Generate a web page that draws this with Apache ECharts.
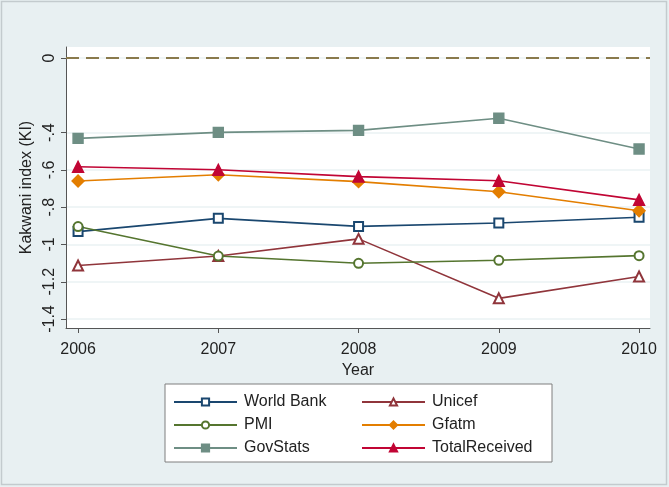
<!DOCTYPE html>
<html><head><meta charset="utf-8">
<script src="https://cdn.jsdelivr.net/npm/echarts@6/dist/echarts.min.js"></script>
<style>html,body{margin:0;padding:0;background:#e8f0f2;}#c{width:669px;height:487px;}</style>
</head><body><div id="c"></div>
<script>
const years = [2006, 2007, 2008, 2009, 2010];
const worldBank = [-0.931, -0.860, -0.903, -0.885, -0.854];
const unicef = [-1.113, -1.062, -0.970, -1.289, -1.172];
const pmi = [-0.904, -1.062, -1.101, -1.085, -1.060];
const gfatm = [-0.660, -0.626, -0.663, -0.717, -0.819];
const govStats = [-0.431, -0.399, -0.388, -0.323, -0.488];
const totalReceived = [-0.583, -0.599, -0.636, -0.658, -0.761];
const yTicks = [0, -0.4, -0.6, -0.8, -1, -1.2, -1.4];
const refLine = 0;
const xMin = 2005.914, xMax = 2010.078;

const FONT = 'Liberation Sans, Arial, sans-serif';
const pairs = a => years.map((y, i) => [y, a[i]]);
function mk(name, data, color, symbol, size) {
  return {
    name, type: 'line', data: pairs(data), symbol, symbolSize: size,
    lineStyle: { color, width: 1.6 },
    itemStyle: { color, borderColor: color, borderWidth: 1.4 },
    emphasis: { disabled: true }, z: 3
  };
}
const chart = echarts.init(document.getElementById('c'));
const legendCommon = {
  orient: 'vertical', itemWidth: 63, itemHeight: 9, itemGap: 7,
  textStyle: { fontFamily: FONT, fontSize: 16, color: '#222', padding: [0, 0, 0, 2] },
  selectedMode: false, padding: 0
};
chart.setOption({
  animation: false,
  backgroundColor: '#e8f0f2',
  graphic: [
    { type: 'rect', shape: { x: 1.5, y: 1.5, width: 665, height: 483 }, style: { fill: 'none', stroke: '#c3cbce', lineWidth: 1.5 }, z: -1 },
    { type: 'rect', shape: { x: 165, y: 384, width: 387, height: 78 }, style: { fill: '#fff', stroke: '#7f7f7f', lineWidth: 1 }, z: -1 }
  ],
  grid: { left: 66, right: 19, top: 47, bottom: 159, show: true, backgroundColor: '#fff', borderWidth: 0 },
  xAxis: {
    type: 'value', min: xMin, max: xMax,
    name: 'Year', nameLocation: 'middle', nameGap: 34,
    nameTextStyle: { fontFamily: FONT, fontSize: 16, color: '#222' },
    axisLine: { onZero: false, lineStyle: { color: '#555', width: 1 } },
    axisTick: { show: true, length: 5, customValues: years, lineStyle: { color: '#555' } },
    axisLabel: { customValues: years, fontFamily: FONT, fontSize: 16, color: '#222', margin: 14, formatter: v => String(v) },
    splitLine: { show: false }
  },
  yAxis: {
    type: 'value', min: -1.448, max: 0.059,
    name: 'Kakwani index (KI)', nameLocation: 'middle', nameGap: 29, nameRotate: 90,
    nameTextStyle: { fontFamily: FONT, fontSize: 16, color: '#222' },
    axisLine: { show: true, onZero: false, lineStyle: { color: '#555', width: 1 } },
    axisTick: { show: true, length: 5, customValues: yTicks, lineStyle: { color: '#555' } },
    axisLabel: {
      customValues: yTicks, rotate: 90, fontFamily: FONT, fontSize: 16, color: '#222', margin: 8,
      formatter: v => v === 0 ? '0' : String(Math.round(v * 10) / 10).replace('0.', '.')
    },
    splitLine: { show: true, lineStyle: { color: '#eaf2f3', width: 1.5 } }
  },
  legend: [
    Object.assign({ left: 173, top: 394, data: ['World Bank', 'PMI', 'GovStats'] }, legendCommon),
    Object.assign({ left: 361, top: 394, data: ['Unicef', 'Gfatm', 'TotalReceived'] }, legendCommon)
  ],
  series: [
    {
      name: 'ref', type: 'line', data: [[xMin, refLine], [xMax, refLine]], symbol: 'none',
      lineStyle: { color: '#8a7a4c', width: 2, type: [13, 7] }, silent: true, z: 2
    },
    mk('World Bank', worldBank, '#1a476f', 'emptyRect', 9),
    mk('Unicef', unicef, '#90353b', 'emptyTriangle', 10),
    mk('PMI', pmi, '#55752f', 'emptyCircle', 9),
    mk('Gfatm', gfatm, '#e37e00', 'diamond', 12),
    mk('GovStats', govStats, '#6e8e84', 'rect', 10),
    mk('TotalReceived', totalReceived, '#c10534', 'triangle', 11)
  ]
});
</script></body></html>
